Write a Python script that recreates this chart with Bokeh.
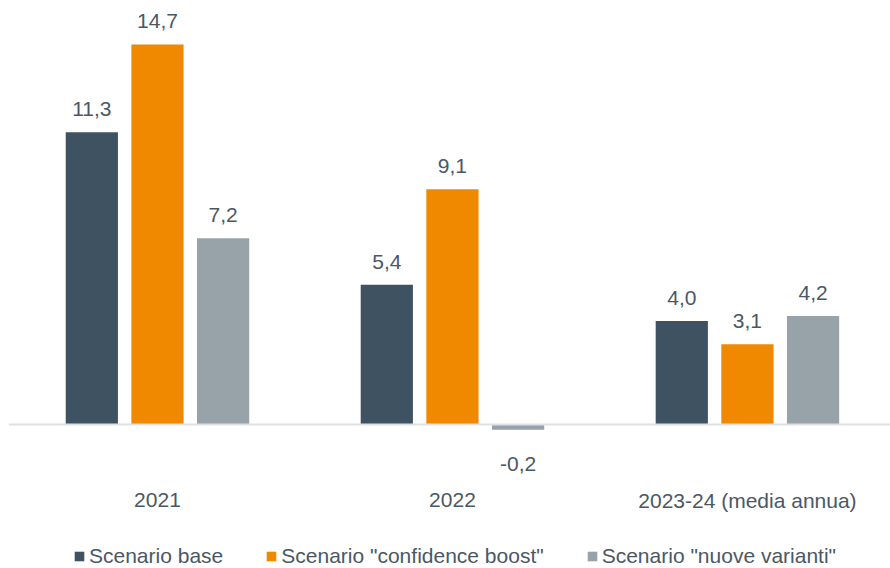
from bokeh.plotting import figure
from bokeh.models import ColumnDataSource, Range1d, Span, Legend, LegendItem
from bokeh.transform import dodge
from bokeh.embed import file_html
from bokeh.resources import INLINE

categories = ["2021", "2022", "2023-24 (media annua)"]
series_names = ["Scenario base", 'Scenario "confidence boost"', 'Scenario "nuove varianti"']
base = [11.3, 5.4, 4.0]
confidence = [14.7, 9.1, 3.1]
varianti = [7.2, -0.2, 4.2]

colors = ["#3f5262", "#f08800", "#98a2a9"]
text_color = "#4a5866"
font = "Liberation Sans"

xs = list(range(len(categories)))

p = figure(width=890, height=568, output_backend="svg", toolbar_location=None,
           x_range=Range1d(-0.505, 2.485), y_range=Range1d(-5.571, 16.40),
           x_axis_location=None, y_axis_location=None,
           min_border_left=8, min_border_right=0, min_border_top=0, min_border_bottom=0)
p.outline_line_color = None
p.xgrid.grid_line_color = None
p.ygrid.grid_line_color = None
p.background_fill_color = "white"
p.border_fill_color = "white"

zero = Span(location=0, dimension="width", line_color="#dde1e6", line_width=2)
p.add_layout(zero)

offsets = [-0.2225, 0.0, 0.2225]
legend_items = []
for vals, name, col, off in zip([base, confidence, varianti], series_names, colors, offsets):
    labels = [f"{v:.1f}".replace(".", ",") for v in vals]
    yoff = [-23 if v >= 0 else 34 for v in vals]
    src = ColumnDataSource(dict(x=xs, top=vals, label=labels, yoff=yoff))
    r = p.vbar(x=dodge("x", off), top="top", bottom=0, width=0.177, source=src,
               fill_color=col, line_color=None)
    legend_items.append(LegendItem(label=name, renderers=[r]))
    p.text(x=dodge("x", off), y="top", text="label", source=src, y_offset="yoff",
           text_align="center", text_baseline="alphabetic", text_font_size="21px",
           text_color=text_color, text_font={"value": font})

# category (tick) labels under the groups
cat_src = ColumnDataSource(dict(x=xs, y=[0] * len(xs), label=categories))
p.text(x="x", y="y", text="label", source=cat_src, y_offset=76,
       text_align="center", text_baseline="middle", text_font_size="21px",
       text_color=text_color, text_font={"value": font})

legend = Legend(items=legend_items, orientation="horizontal", location=(65, 0),
                label_text_font_size="21px", label_text_color=text_color,
                label_text_font=font, glyph_width=12, glyph_height=12,
                spacing=42, label_standoff=4, padding=0, margin=0,
                border_line_alpha=0, background_fill_alpha=0)
p.add_layout(legend, "center")

open("out.html", "w").write(file_html(p, INLINE))
